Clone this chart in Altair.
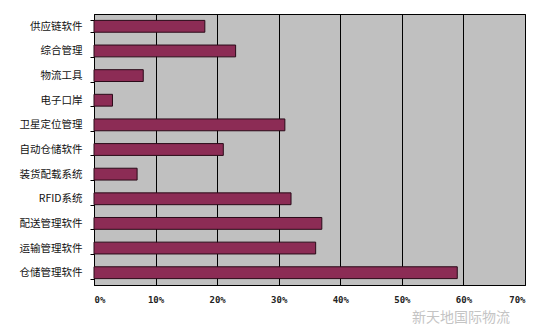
import altair as alt
import pandas as pd

categories = ["供应链软件", "综合管理", "物流工具", "电子口岸", "卫星定位管理", "自动仓储软件",
              "装货配载系统", "RFID系统", "配送管理软件", "运输管理软件", "仓储管理软件"]
values = [0.18, 0.23, 0.08, 0.03, 0.31, 0.21, 0.07, 0.32, 0.37, 0.36, 0.59]
tick_values = [0, 0.1, 0.2, 0.3, 0.4, 0.5, 0.6, 0.7]
watermark = "新天地国际物流"

df = pd.DataFrame({"cat": categories, "val": values})

bars = alt.Chart(df).mark_bar(color="#8C2C55", stroke="#2a0a18", strokeWidth=1).encode(
    x=alt.X("val:Q", scale=alt.Scale(domain=[0, 0.7], nice=False),
            axis=alt.Axis(values=tick_values, format=".0%", title=None, grid=True,
                          gridColor="#000000", gridWidth=1, domain=True, domainColor="#000000",
                          ticks=False, labelFont="DejaVu Sans Mono", labelFontSize=9,
                          labelFontWeight="bold", labelColor="#222222", labelPadding=10)),
    y=alt.Y("cat:N", sort=categories, scale=alt.Scale(paddingInner=0.52, paddingOuter=0.26),
            axis=alt.Axis(title=None, tickBand="extent", tickSize=4, tickColor="#000000",
                          domainColor="#000000", labelFont="Noto Sans CJK SC",
                          labelFontSize=10.5, labelColor="#111111", labelPadding=8)),
)

wm = alt.Chart(pd.DataFrame({"t": [watermark]})).mark_text(
    font="Noto Sans CJK SC", fontSize=14, color="#c4c4c4", align="left", baseline="middle"
).encode(text="t:N", x=alt.value(318), y=alt.value(304))

chart = alt.layer(bars, wm).properties(
    width=431, height=271,
    background="#FFFFFF",
    autosize=alt.AutoSizeParams(type="none"),
    padding={"left": 94, "top": 14, "right": 27, "bottom": 42},
).configure_view(fill="#C0C0C0", stroke="#000000", strokeWidth=1)

chart.save("out.html", embed_options={"renderer": "svg", "actions": False})
